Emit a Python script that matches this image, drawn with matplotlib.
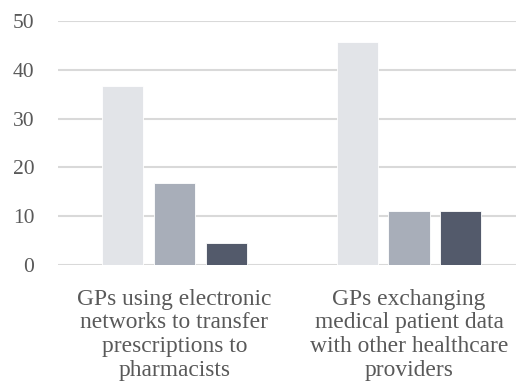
import matplotlib.pyplot as plt
import numpy as np

# data
categories = [
    "GPs using electronic\nnetworks to transfer\nprescriptions to\npharmacists",
    "GPs exchanging\nmedical patient data\nwith other healthcare\nproviders",
]
series_a = [36.6, 45.6]
series_b = [16.7, 11.0]
series_c = [4.4, 11.0]
yticks = [0, 10, 20, 30, 40, 50]

colors = ["#e2e4e8", "#a8aeb9", "#535a6b"]
serif = ["Liberation Serif", "DejaVu Serif"]

plt.rcParams["font.family"] = serif

fig = plt.figure(figsize=(5.17, 3.89), dpi=100)
ax = fig.add_axes([0.112, 0.319, 0.886, 0.627])

x = np.arange(len(categories))
w = 0.175
off = 0.22
for i, (vals, c) in enumerate(zip([series_a, series_b, series_c], colors)):
    ax.bar(x + (i - 1) * off, vals, width=w, color=c, edgecolor="white",
           linewidth=0.6, zorder=3)

ax.set_ylim(0, 50)
ax.set_xlim(-0.497, 1.456)
ax.set_yticks(yticks)
ax.set_yticklabels([str(t) for t in yticks], family=serif)
ax.set_xticks(x)
ax.set_xticklabels(categories, linespacing=1.17, family=serif)
ax.grid(axis="y", color="#d9d9d9", linewidth=1.5, zorder=0)
ax.tick_params(length=0, colors="#595959")
ax.tick_params(axis="y", labelsize=15.5, pad=17)
ax.tick_params(axis="x", labelsize=16.9, pad=17)
for s in ax.spines.values():
    s.set_visible(False)

fig.savefig("out.png", dpi=100)
